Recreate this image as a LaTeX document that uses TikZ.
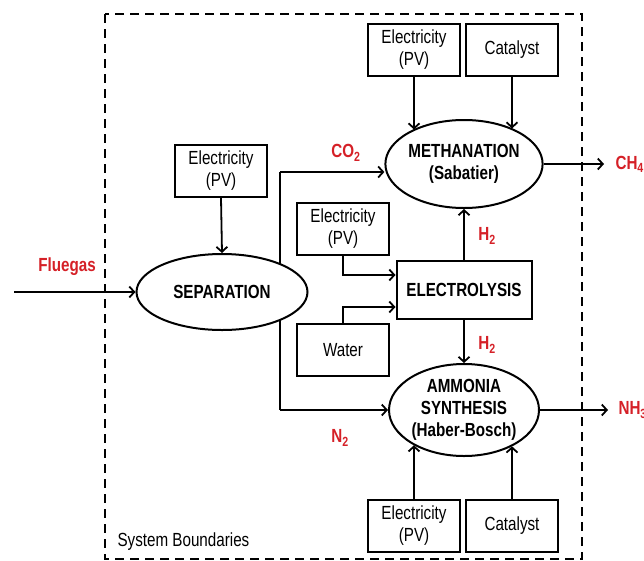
\documentclass[tikz,border=0pt]{standalone}
\usepackage{fontspec}
\setmainfont[FakeStretch=0.8]{Liberation Sans}
\usepackage{xcolor}
\usepackage{tikz}
\usetikzlibrary{shapes,arrows,positioning,calc,arrows.meta}
\definecolor{flowred}{RGB}{213,32,39}

\begin{document}
\fontsize{19}{22}\selectfont
\begin{tikzpicture}[x=1pt, y=-1pt,
    box/.style={draw, line width=2pt, fill=white, minimum width=92pt, minimum height=52pt, inner sep=0pt, align=center},
    proc/.style={draw, ellipse, line width=2pt, fill=white, inner sep=0pt, align=center, font=\bfseries},
    flow/.style={line width=1.8pt, -{Straight Barb[length=5pt,width=11pt,line width=1.8pt]}},
    gas/.style={text=flowred, font=\bfseries}]
    \useasboundingbox (0,0) rectangle (644,560);

    % system boundary
    \draw[line width=2.5pt, dash pattern=on 9pt off 6pt] (105,14) rectangle (582,559);
    \node[anchor=south west] (sysb) at (111,557) {System Boundaries};

    % split line behind the separation
    \coordinate (co2 turn) at (280,172);
    \coordinate (n2 turn) at (280,410);
    \draw[line width=1.8pt] (co2 turn) -- (n2 turn);

    % processes
    \node[proc, minimum width=171pt, minimum height=76pt] (sep) at (222,292) {SEPARATION};
    \node[proc, minimum width=148pt, minimum height=88pt] (meth) at (464,164) {METHANATION\\(Sabatier)};
    \node[proc, minimum width=150pt, minimum height=92pt] (amm) at (464,410) {AMMONIA\\SYNTHESIS\\(Haber-Bosch)};
    \node[box, minimum width=135pt, minimum height=58pt, font=\bfseries] (elyz) at (464,290) {ELECTROLYSIS};

    % inputs
    \node[box] (elecsep) at (221,171) {Electricity\\(PV)};
    \node[box] (elecmeth) at (414,50) {Electricity\\(PV)};
    \node[box] (catmeth) at (512,50) {Catalyst};
    \node[box] (elecely) at (343,229) {Electricity\\(PV)};
    \node[box] (water) at (343,350) {Water};
    \node[box] (elecamm) at (414,526) {Electricity\\(PV)};
    \node[box] (catamm) at (512,526) {Catalyst};

    % flows
    \coordinate (flue in) at (14,292);
    \draw[flow] (flue in) -- (sep.west);
    \draw[flow] (elecsep.south) -- (sep.north);
    \draw[flow] (co2 turn) -- (co2 turn -| meth.west);
    \draw[flow] (n2 turn) -- (amm.west);
    \foreach \src/\ang in {elecmeth/146, catmeth/36}
        \draw[flow] (\src.south) -- (\src.south |- meth.\ang);
    \foreach \src/\ang in {elecamm/215, catamm/323}
        \draw[flow] (\src.north) -- (\src.north |- amm.\ang);
    \draw[flow] (elecely.south) |- ([yshift=15pt]elyz.west);
    \draw[flow] (water.north) |- ([yshift=-17pt]elyz.west);
    \draw[flow] (elyz.north) -- (meth.south);
    \draw[flow] (elyz.south) -- (amm.north);
    \coordinate (ch4 out) at (604,164);
    \coordinate (nh3 out) at (608,410);
    \draw[flow] (meth.east) -- (ch4 out);
    \draw[flow] (amm.east) -- (nh3 out);

    % gas labels
    \node[gas] (flue) at (67,267) {Fluegas};
    \node[gas] (co2) at (346,153) {CO\textsubscript{2}};
    \node[gas] (h2up) at (487,236) {H\textsubscript{2}};
    \node[gas] (h2down) at (487,345) {H\textsubscript{2}};
    \node[gas] (n2) at (340,438) {N\textsubscript{2}};
    \node[gas, anchor=west] (ch4) at (609,164) {CH\textsubscript{4}};
    \node[gas, anchor=west] (nh3) at (612,410) {NH\textsubscript{3}};
\end{tikzpicture}
\end{document}
